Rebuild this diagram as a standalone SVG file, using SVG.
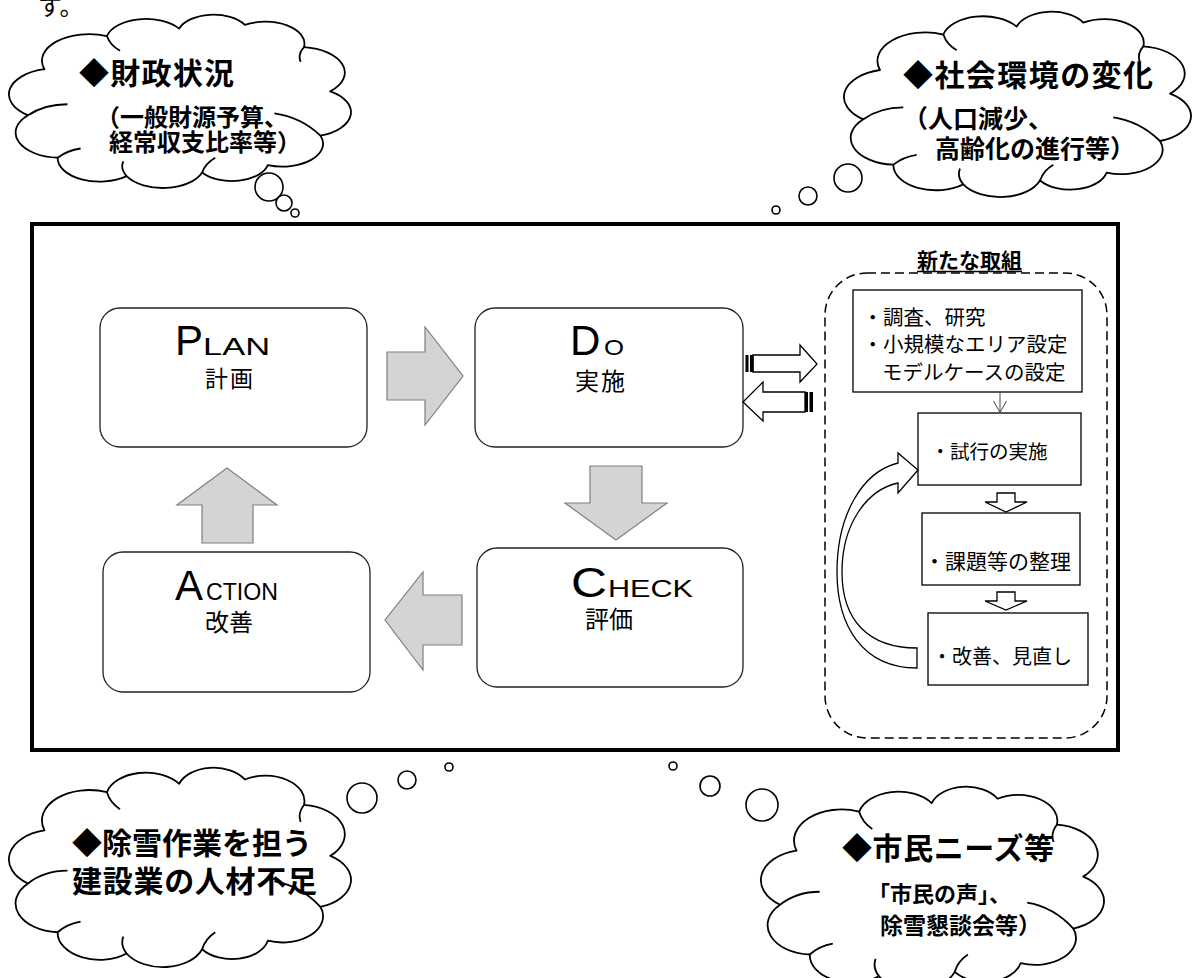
<svg xmlns="http://www.w3.org/2000/svg" width="1193" height="978" viewBox="0 0 1193 978">
<style>
.cloud{fill:#fff;stroke:#000;stroke-width:1.8;stroke-linejoin:round}
.inner{fill:none;stroke:#000;stroke-width:1.8}
.bub{fill:#fff;stroke:#000;stroke-width:1.6}
.node{fill:#fff;stroke:#222;stroke-width:1.3}
.box{fill:#fff;stroke:#000;stroke-width:1.3}
.garrow{fill:#d4d4d4;stroke:#7f7f7f;stroke-width:1.2;stroke-linejoin:miter}
.harrow{fill:#fff;stroke:#000;stroke-width:1.3;stroke-linejoin:miter}
.jp{font-family:"Noto Sans CJK JP","Noto Sans",sans-serif;fill:#000}
.b{font-weight:700}
.lat{font-family:"Liberation Sans","DejaVu Sans",sans-serif;fill:#000}
</style>
<rect width="1193" height="978" fill="#fff"/>

<text class="jp" x="38" y="15" font-size="24">す。</text>

<g id="cloud-finance">
<g transform="translate(14.9,10.2) scale(3.285,1.844)">
<path class="cloud" vector-effect="non-scaling-stroke" d="M9,32 A14.4,14.4 0 0 1 28,14 A12.3,12.3 0 0 1 50,10 A11,11 0 0 1 70,8 A11.9,11.9 0 0 1 88,20 A13.9,13.9 0 0 1 96,44 A13.3,13.3 0 0 1 93,68 A12.4,12.4 0 0 1 77,84 A11.2,11.2 0 0 1 57,88 A12.7,12.7 0 0 1 34,90 A12.8,12.8 0 0 1 13,80 A13.6,13.6 0 0 1 4,57 A14,14 0 0 1 9,32 Z"/>
<path class="inner" vector-effect="non-scaling-stroke" d="M4,57 Q9,51 16,51 M28,14 Q29,19 32,22 M88,20 Q86,24 87,28 M93,68 Q87,58 79,56 M57,88 Q58,83 61,80 M34,90 Q32,86 33,82 M13,80 Q16,76 20,75"/>
</g>
<circle class="bub" cx="269" cy="187" r="14"/>
<circle class="bub" cx="284" cy="203" r="8"/>
<circle class="bub" cx="295" cy="213" r="4"/>
<text class="jp b" x="79" y="84" font-size="30" textLength="155">◆財政状況</text>
<text class="jp b" font-size="24"><tspan x="96" y="126">（一般財源予算、</tspan><tspan x="109" y="151">経常収支比率等）</tspan></text>
</g>

<g id="cloud-society">
<g transform="translate(850,6.9) scale(3.333,1.972)">
<path class="cloud" vector-effect="non-scaling-stroke" d="M9,32 A14.4,14.4 0 0 1 28,14 A12.3,12.3 0 0 1 50,10 A11,11 0 0 1 70,8 A11.9,11.9 0 0 1 88,20 A13.9,13.9 0 0 1 96,44 A13.3,13.3 0 0 1 93,68 A12.4,12.4 0 0 1 77,84 A11.2,11.2 0 0 1 57,88 A12.7,12.7 0 0 1 34,90 A12.8,12.8 0 0 1 13,80 A13.6,13.6 0 0 1 4,57 A14,14 0 0 1 9,32 Z"/>
<path class="inner" vector-effect="non-scaling-stroke" d="M4,57 Q9,51 16,51 M28,14 Q29,19 32,22 M88,20 Q86,24 87,28 M93,68 Q87,58 79,56 M57,88 Q58,83 61,80 M34,90 Q32,86 33,82 M13,80 Q16,76 20,75"/>
</g>
<circle class="bub" cx="848" cy="178" r="14"/>
<circle class="bub" cx="808" cy="196" r="9"/>
<circle class="bub" cx="776" cy="210" r="4"/>
<text class="jp b" x="903" y="86" font-size="30" textLength="250">◆社会環境の変化</text>
<text class="jp b" font-size="25"><tspan x="903" y="128">（人口減少、</tspan><tspan x="935" y="158">高齢化の進行等）</tspan></text>
</g>

<g id="cloud-labor">
<g transform="translate(14.9,762.5) scale(3.285,2.122)">
<path class="cloud" vector-effect="non-scaling-stroke" d="M9,32 A14.4,14.4 0 0 1 28,14 A12.3,12.3 0 0 1 50,10 A11,11 0 0 1 70,8 A11.9,11.9 0 0 1 88,20 A13.9,13.9 0 0 1 96,44 A13.3,13.3 0 0 1 93,68 A12.4,12.4 0 0 1 77,84 A11.2,11.2 0 0 1 57,88 A12.7,12.7 0 0 1 34,90 A12.8,12.8 0 0 1 13,80 A13.6,13.6 0 0 1 4,57 A14,14 0 0 1 9,32 Z"/>
<path class="inner" vector-effect="non-scaling-stroke" d="M4,57 Q9,51 16,51 M28,14 Q29,19 32,22 M88,20 Q86,24 87,28 M93,68 Q87,58 79,56 M57,88 Q58,83 61,80 M34,90 Q32,86 33,82 M13,80 Q16,76 20,75"/>
</g>
<circle class="bub" cx="362" cy="798" r="15"/>
<circle class="bub" cx="407" cy="780" r="9"/>
<circle class="bub" cx="449" cy="767" r="4"/>
<text class="jp b" font-size="30"><tspan x="72" y="854" textLength="240">◆除雪作業を担う</tspan><tspan x="72" y="892" textLength="245">建設業の人材不足</tspan></text>
</g>

<g id="cloud-citizens">
<g transform="translate(766.9,781.4) scale(3.295,2.164)">
<path class="cloud" vector-effect="non-scaling-stroke" d="M9,32 A14.4,14.4 0 0 1 28,14 A12.3,12.3 0 0 1 50,10 A11,11 0 0 1 70,8 A11.9,11.9 0 0 1 88,20 A13.9,13.9 0 0 1 96,44 A13.3,13.3 0 0 1 93,68 A12.4,12.4 0 0 1 77,84 A11.2,11.2 0 0 1 57,88 A12.7,12.7 0 0 1 34,90 A12.8,12.8 0 0 1 13,80 A13.6,13.6 0 0 1 4,57 A14,14 0 0 1 9,32 Z"/>
<path class="inner" vector-effect="non-scaling-stroke" d="M4,57 Q9,51 16,51 M28,14 Q29,19 32,22 M88,20 Q86,24 87,28 M93,68 Q87,58 79,56 M57,88 Q58,83 61,80 M34,90 Q32,86 33,82 M13,80 Q16,76 20,75"/>
</g>
<circle class="bub" cx="762" cy="805" r="16"/>
<circle class="bub" cx="710" cy="786" r="10"/>
<circle class="bub" cx="673" cy="766" r="4"/>
<text class="jp b" x="842" y="859" font-size="30" textLength="212">◆市民ニーズ等</text>
<text class="jp b"><tspan x="868" y="902" font-size="22">「市民の声」、</tspan><tspan x="880" y="934" font-size="23">除雪懇談会等）</tspan></text>
</g>

<rect id="frame" x="32" y="224" width="1086" height="526" fill="none" stroke="#000" stroke-width="4"/>

<g id="plan">
<rect class="node" x="100" y="308" width="267" height="139" rx="20"/>
<text class="lat" x="175" y="355"><tspan font-size="42">P</tspan><tspan font-size="24" textLength="67" lengthAdjust="spacingAndGlyphs">LAN</tspan></text>
<text class="jp" x="205" y="387" font-size="23" textLength="48">計画</text>
</g>

<g id="do">
<rect class="node" x="475" y="308" width="268" height="139" rx="20"/>
<text class="lat" x="570" y="355"><tspan font-size="42">D</tspan><tspan x="604" font-size="22" textLength="20" lengthAdjust="spacingAndGlyphs">O</tspan></text>
<text class="jp" x="575" y="390" font-size="24" textLength="50">実施</text>
</g>

<g id="check">
<rect class="node" x="477" y="548" width="266" height="139" rx="20"/>
<text class="lat" x="571" y="597"><tspan font-size="42" textLength="36" lengthAdjust="spacingAndGlyphs">C</tspan><tspan x="608" font-size="24" textLength="85" lengthAdjust="spacingAndGlyphs">HECK</tspan></text>
<text class="jp" x="585" y="628" font-size="24" textLength="48">評価</text>
</g>

<g id="action">
<rect class="node" x="103" y="552" width="267" height="140" rx="20"/>
<text class="lat" x="175" y="600"><tspan font-size="42">A</tspan><tspan x="206" font-size="24" textLength="72" lengthAdjust="spacingAndGlyphs">CTION</tspan></text>
<text class="jp" x="205" y="631" font-size="24" textLength="48">改善</text>
</g>

<g id="new-initiatives">
<rect x="825" y="273" width="282" height="465" rx="42" fill="none" stroke="#000" stroke-width="1.5" stroke-dasharray="9 5"/>
<text class="jp b" x="917" y="268" font-size="21" textLength="105">新たな取組</text>
<line x1="917" y1="271.5" x2="1022" y2="271.5" stroke="#000" stroke-width="1.5"/>
</g>

<g id="step-survey">
<rect class="box" x="853" y="290" width="229" height="102"/>
<text class="jp" font-size="20.5"><tspan x="862.5" y="325">・調査、研究</tspan><tspan x="862.5" y="352">・小規模なエリア設定</tspan><tspan x="882" y="380">モデルケースの設定</tspan></text>
</g>

<g id="step-trial">
<rect class="box" x="918" y="413" width="163" height="72"/>
<text class="jp" x="930.5" y="459" font-size="19.5">・試行の実施</text>
</g>

<g id="step-issues">
<rect class="box" x="922" y="513" width="158" height="72"/>
<text class="jp" x="924" y="569" font-size="21">・課題等の整理</text>
</g>

<g id="step-improve">
<rect class="box" x="928" y="613" width="160" height="72"/>
<text class="jp" x="932" y="664" font-size="20">・改善、見直し</text>
</g>

<g id="connectors">
<path class="garrow" d="M387,352 L425,352 L425,327 L463,376 L425,425 L425,400 L387,400 Z"/>
<path class="garrow" d="M590,466 L642,466 L642,503 L667,503 L616,540 L565,503 L590,503 Z"/>
<path class="garrow" d="M462,595 L423,595 L423,572 L385,620 L423,670 L423,645 L462,645 Z"/>
<path class="garrow" d="M202,543 L202,505 L177,505 L227,468 L277,505 L253,505 L253,543 Z"/>

<path class="harrow" d="M753,355 L800,355 L800,345 L817,364 L800,382 L800,372 L753,372 Z"/>
<rect x="745.5" y="355" width="3" height="17" fill="#000"/>
<rect x="750" y="355" width="3.5" height="17" fill="#000"/>
<path class="harrow" d="M805,392 L763,392 L763,382 L743,402 L763,421 L763,412 L805,412 Z"/>
<rect x="805" y="392" width="3" height="20" fill="#000"/>
<rect x="809.5" y="392" width="3.5" height="20" fill="#000"/>

<line x1="1000" y1="392" x2="1000" y2="412" stroke="#444" stroke-width="1"/>
<path d="M993.5,401 L1000,412.5 L1006.5,401" fill="none" stroke="#444" stroke-width="1"/>

<path class="harrow" d="M997,493 L1015,493 L1015,502 L1027,502 L1006,512 L985,502 L997,502 Z"/>
<path class="harrow" d="M997,592 L1015,592 L1015,601 L1027,601 L1006,610 L985,601 L997,601 Z"/>

<path class="harrow" d="M917,668 C862,668 837,625 837,572 C837,515 862,472 898,463 L898,453 L918,470 L898,493 L898,483 C866,490 842,525 842,572 C842,620 868,648 917,648 Z"/>
</g>
</svg>
